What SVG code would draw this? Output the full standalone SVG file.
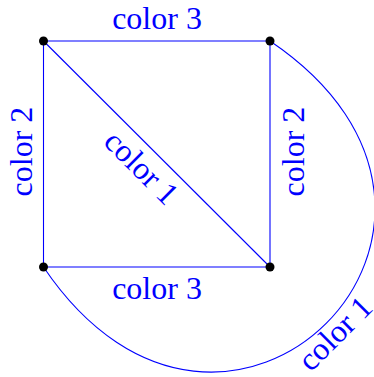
<svg xmlns="http://www.w3.org/2000/svg" width="374" height="377" viewBox="0 0 374 377">
<style>
.e{fill:none;stroke:#0000ff;stroke-width:1.1}
.n{fill:#000}
.t{font-family:"Liberation Serif","Times New Roman",serif;font-size:32px;fill:#0000ff;text-anchor:middle}
</style>
<rect width="374" height="377" fill="#fff"/>
<g id="edges">
<line class="e" x1="43.5" y1="41" x2="270" y2="41"/>
<line class="e" x1="43.5" y1="41" x2="43.5" y2="267"/>
<line class="e" x1="270" y1="41" x2="270" y2="267"/>
<line class="e" x1="43.5" y1="267" x2="270" y2="267"/>
<line class="e" x1="43.5" y1="41" x2="270" y2="267"/>
<path class="e" d="M270,41 C539.8,223 225.5,536.8 43.5,267"/>
</g>
<g id="labels">
<text class="t" x="157" y="28.5">color 3</text>
<text class="t" x="157" y="298.5">color 3</text>
<text class="t" transform="translate(31.5,151.5) rotate(-90)">color 2</text>
<text class="t" transform="translate(304,151.5) rotate(-90)">color 2</text>
<text class="t" transform="translate(134,175) rotate(45)">color 1</text>
<text class="t" transform="translate(342.5,341) rotate(-45)">color 1</text>
</g>
<g id="n1"><circle class="n" cx="43.5" cy="41" r="4.5"/></g>
<g id="n2"><circle class="n" cx="270" cy="41" r="4.5"/></g>
<g id="n3"><circle class="n" cx="43.5" cy="267" r="4.5"/></g>
<g id="n4"><circle class="n" cx="270" cy="267" r="4.5"/></g>
</svg>
